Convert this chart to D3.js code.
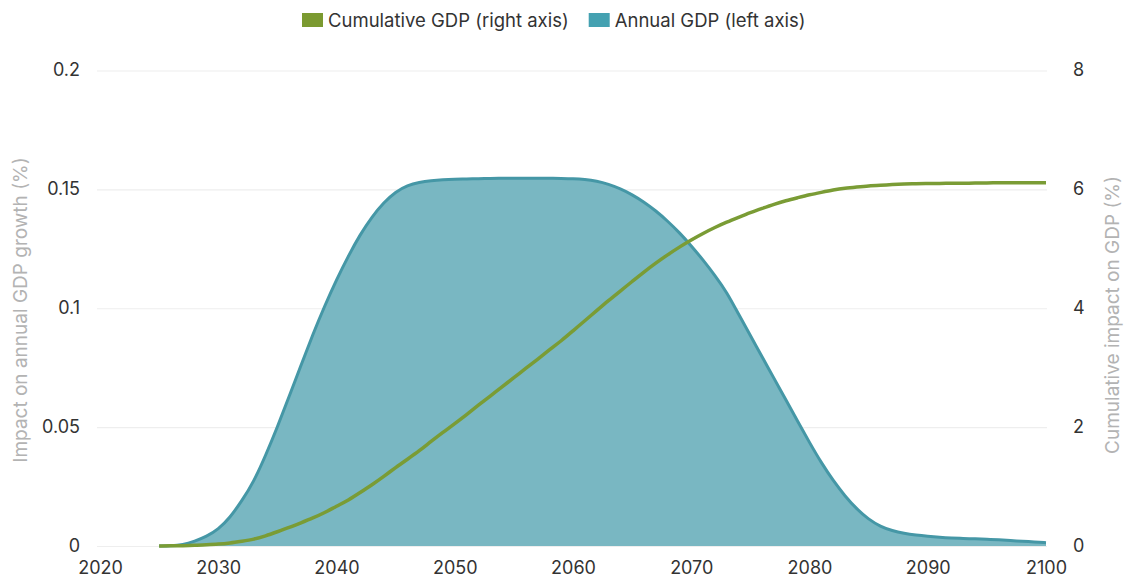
<!DOCTYPE html>
<html>
<head>
<meta charset="utf-8">
<script src="https://cdn.jsdelivr.net/npm/d3@7"></script>
<style>
  html, body { margin: 0; padding: 0; background: #fff; }
  svg { display: block; font-family: Inter, "Liberation Sans", Arial, sans-serif; }
</style>
</head>
<body>
<svg id="chart" width="1128" height="577"></svg>
<script>
// Years covered by both series
const years = d3.range(2025, 2101);

// Impact on annual GDP growth (%), left axis
const annualGDP = [
  0, 0, 0.0005, 0.002, 0.004, 0.007, 0.012, 0.019, 0.027, 0.038,
  0.050, 0.063, 0.076, 0.089, 0.101, 0.112, 0.122, 0.131, 0.1385, 0.1445,
  0.149, 0.1517, 0.153, 0.1537, 0.1541, 0.1543, 0.1544, 0.1545, 0.1546, 0.1547,
  0.1547, 0.1547, 0.1547, 0.1547, 0.1546, 0.1545, 0.1542, 0.1535, 0.1522, 0.1503,
  0.1478, 0.1447, 0.141, 0.1367, 0.1318, 0.1263, 0.1203, 0.1138, 0.1068, 0.0975,
  0.0885, 0.0795, 0.0705, 0.0615, 0.0525, 0.0435, 0.035, 0.0275, 0.021, 0.0155,
  0.0112, 0.0082, 0.0064, 0.0053, 0.0046, 0.0041, 0.0037, 0.0034, 0.0032, 0.003,
  0.0028, 0.0026, 0.0023, 0.002, 0.0017, 0.0014
];

// Cumulative impact on GDP (%), right axis
const cumulativeGDP = [
  0, 0.003, 0.006, 0.01, 0.02, 0.03, 0.05, 0.08, 0.11, 0.17,
  0.24, 0.31, 0.39, 0.47, 0.56, 0.67, 0.77, 0.90, 1.03, 1.17,
  1.32, 1.46, 1.60, 1.76, 1.91, 2.06, 2.21, 2.37, 2.52, 2.68,
  2.83, 2.99, 3.14, 3.30, 3.45, 3.62, 3.79, 3.96, 4.13, 4.29,
  4.45, 4.61, 4.76, 4.90, 5.03, 5.15, 5.26, 5.36, 5.45, 5.53,
  5.61, 5.68, 5.75, 5.81, 5.86, 5.91, 5.95, 5.99, 6.02, 6.04,
  6.06, 6.07, 6.08, 6.09, 6.095, 6.10, 6.10, 6.105, 6.105, 6.105,
  6.11, 6.11, 6.11, 6.11, 6.11, 6.11
];

const xTicks = [2020, 2030, 2040, 2050, 2060, 2070, 2080, 2090, 2100];
const leftTicks = [0, 0.05, 0.1, 0.15, 0.2];
const leftTickLabels = ["0", "0.05", "0.1", "0.15", "0.2"];
const rightTicks = [0, 2, 4, 6, 8];

const legendItems = [
  { label: "Cumulative GDP (right axis)", color: "#7b9a30" },
  { label: "Annual GDP (left axis)", color: "#44a1b1" }
];

const svg = d3.select("#chart");
const plot = { left: 100, right: 1046, top: 70.5, bottom: 546 };

const x = d3.scaleLinear().domain([2020, 2100]).range([plot.left, plot.right]);
const yLeft = d3.scaleLinear().domain([0, 0.2]).range([plot.bottom, plot.top]);
const yRight = d3.scaleLinear().domain([0, 8]).range([plot.bottom, plot.top]);

// Horizontal gridlines
svg.append("g")
  .selectAll("line")
  .data(leftTicks)
  .join("line")
  .attr("x1", plot.left - 3)
  .attr("x2", plot.right + 1)
  .attr("y1", d => yLeft(d) + 0.5)
  .attr("y2", d => yLeft(d) + 0.5)
  .attr("stroke", "#eeeeee")
  .attr("stroke-width", 1.2);

// Annual GDP area with outline
const annualData = years.map((yr, i) => ({ year: yr, v: annualGDP[i] }));
const area = d3.area()
  .x(d => x(d.year))
  .y0(yLeft(0))
  .y1(d => yLeft(d.v))
  .curve(d3.curveBasis);
const line = d3.line()
  .x(d => x(d.year))
  .y(d => yLeft(d.v))
  .curve(d3.curveBasis);

svg.append("path")
  .datum(annualData)
  .attr("d", area)
  .attr("fill", "#79b7c2");
svg.append("path")
  .datum(annualData)
  .attr("d", line)
  .attr("fill", "none")
  .attr("stroke", "#4597a6")
  .attr("stroke-width", 3)
  .attr("stroke-linejoin", "round");

// Cumulative GDP line
const cumData = years.map((yr, i) => ({ year: yr, v: cumulativeGDP[i] }));
const cumLine = d3.line()
  .x(d => x(d.year))
  .y(d => yRight(d.v))
  .curve(d3.curveBasis);
svg.append("path")
  .datum(cumData)
  .attr("d", cumLine)
  .attr("fill", "none")
  .attr("stroke", "#7a9c35")
  .attr("stroke-width", 3.5);

// Axes
const tickColor = "#333";
const tickFont = "18px";
const xAxis = d3.axisBottom(x).tickValues(xTicks).tickFormat(d3.format("d")).tickSize(0).tickPadding(0);
const gx = svg.append("g").attr("transform", `translate(0,${plot.bottom})`).call(xAxis);
gx.select(".domain").remove();
gx.selectAll("text").attr("dy", "28px").attr("fill", tickColor)
  .style("font-size", tickFont).style("font-family", "Inter, sans-serif");

const yAxisL = d3.axisLeft(yLeft).tickValues(leftTicks)
  .tickFormat((d, i) => leftTickLabels[i]).tickSize(0).tickPadding(0);
const gyl = svg.append("g").attr("transform", `translate(80,0)`).call(yAxisL);
gyl.select(".domain").remove();
gyl.selectAll("text").attr("fill", tickColor).attr("dy", "0.3em")
  .style("font-size", tickFont).style("font-family", "Inter, sans-serif");

const yAxisR = d3.axisRight(yRight).tickValues(rightTicks).tickFormat(d3.format("d")).tickSize(0).tickPadding(0);
const gyr = svg.append("g").attr("transform", `translate(1073,0)`).call(yAxisR);
gyr.select(".domain").remove();
gyr.selectAll("text").attr("fill", tickColor).attr("dy", "0.3em")
  .style("font-size", tickFont).style("font-family", "Inter, sans-serif");

// Axis titles
svg.append("text")
  .attr("transform", `translate(27,310) rotate(-90)`)
  .attr("text-anchor", "middle")
  .attr("fill", "#b3b3b3")
  .style("font-size", "19px")
  .text("Impact on annual GDP growth (%)");
svg.append("text")
  .attr("transform", `translate(1119,315) rotate(-90)`)
  .attr("text-anchor", "middle")
  .attr("fill", "#b3b3b3")
  .style("font-size", "19px")
  .text("Cumulative impact on GDP (%)");

// Legend
const legend = svg.append("g").attr("transform", "translate(302,0)");
let lx = 0;
legendItems.forEach(item => {
  const g = legend.append("g").attr("transform", `translate(${lx},0)`);
  g.append("rect").attr("x", 0).attr("y", 13).attr("width", 21).attr("height", 14).attr("fill", item.color);
  const t = g.append("text").attr("x", 26).attr("y", 26.5)
    .attr("fill", "#333").style("font-size", "18.5px").text(item.label);
  lx += 26 + t.node().getComputedTextLength() + 20;
});
</script>
</body>
</html>
